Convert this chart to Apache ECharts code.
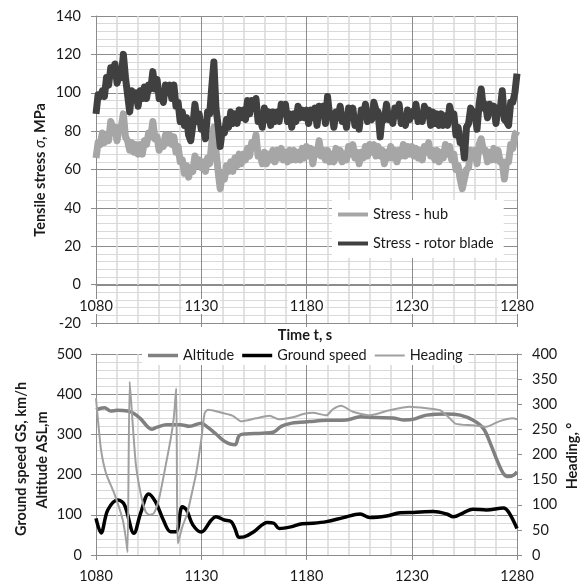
<!DOCTYPE html>
<html><head><meta charset="utf-8">
<script src="https://cdn.jsdelivr.net/npm/echarts@6/dist/echarts.min.js"></script>
<style>html,body{margin:0;padding:0;background:#fff}#c{width:587px;height:586px}</style>
</head><body><div id="c"></div>
<script>
// ---- data: top panel, 1 s samples from 1080 s ----
const stressStart = 1080;
const hubStress = [
66,74,73,79,74,78,75,85,82,82,
75,82,82,89,77,75,70,74,69,73,
68,73,68,75,73,79,77,85,76,77,
70,74,72,78,74,78,73,77,69,72,
64,65,58,62,56,61,59,67,62,65,
61,64,59,66,63,74,82,70,59,50,
58,55,62,59,64,59,66,62,68,63,
68,65,71,67,74,72,78,67,68,63,
69,63,68,65,70,64,70,66,71,65,
69,64,70,65,70,65,69,65,71,66,
72,67,71,63,70,68,75,67,70,65,
70,64,68,64,71,66,70,64,68,65,
72,68,73,66,69,63,69,66,72,67,
73,69,73,67,72,67,70,63,69,66,
72,66,70,64,70,67,73,67,72,68,
72,67,71,66,70,65,72,69,74,67,
70,65,70,64,69,66,73,68,72,65,
68,60,62,55,50,55,60,61,70,67,
70,63,73,76,70,70,64,69,65,71,
65,70,64,64,55,64,64,73,71,78,
80];
const bladeStress = [
89,99,98,101,98,108,104,113,111,115,
105,109,108,120,108,99,90,101,97,100,
93,101,97,103,97,104,102,111,102,107,
97,99,95,104,100,104,97,104,93,95,
85,90,83,87,78,75,83,94,85,89,
81,82,76,90,89,103,116,92,83,72,
81,79,86,82,90,84,89,84,91,87,
91,86,96,89,96,92,97,85,87,82,
92,86,90,83,90,85,90,85,94,89,
94,85,89,82,89,85,93,87,91,87,
91,84,91,87,92,83,93,91,93,84,
98,88,89,82,90,87,93,85,88,82,
92,87,92,83,86,81,91,88,94,85,
89,86,95,91,90,77,88,86,94,86,
89,84,92,88,94,84,87,83,91,86,
90,88,94,85,89,85,93,88,91,83,
90,84,89,83,89,83,88,83,93,88,
89,78,82,74,76,66,82,84,92,88,
90,81,94,102,92,94,87,94,90,93,
84,92,91,101,86,85,83,95,95,100,
110];

// ---- data: bottom panel ----
const altT = [1080,1084,1087,1090,1095,1098,1101,1106.5,1109,1113.5,1120,1124.5,1130,1133,1137,1141,1146,1148,1151,1159,1164.5,1168,1173,1177,1181.5,1189.5,1199,1205.5,1213,1221,1226,1231,1237,1246.5,1253,1259,1264,1268,1270.5,1273.5,1276,1278.5,1280];
const altV = [361,366,358,360,358,352,340,313,318,324,324,320,328,318,301,283,274,297,301,303,306,320,328,330,332,335,336,344,342,341,336,338,348,351,348,336,315,269,236,203,195,199,207];
const gsT = [1080,1082.4,1085.6,1090.4,1093.5,1098,1101.2,1105,1108.3,1112,1115.4,1118,1121,1123,1126,1130,1134.8,1137,1141,1144.2,1146,1148,1150.4,1155,1161.4,1164.5,1167,1172.5,1178,1183,1189.5,1197.5,1205.5,1210,1218,1224.5,1230.7,1240.3,1246.6,1249.8,1254.5,1259,1265.5,1273.6,1276,1280];
const gsV = [91,55,112,137,125,54,104,152,132,87,58,58,120,112,75,57,87,95,87,83,66,44,45,58,81,79,66,70,78,79,83,93,102,93,97,105,106,108,102,95,105,114,112,117,107,66];
const hdgT = [1080,1080.8,1082.4,1084.8,1088.7,1092.7,1094.3,1095,1096,1097.3,1098.9,1101.2,1103.6,1105.2,1107.5,1110,1113,1115.4,1117,1118.1,1118.9,1121,1123.3,1125.7,1127.6,1130,1131.6,1133.2,1137,1145,1149,1156,1162.5,1167,1173.5,1179,1183,1189.5,1192.5,1196.5,1202,1210,1219.5,1229,1237,1243.5,1248,1251,1259,1265.5,1271.5,1278,1280];
const hdgV = [312,275,209,162,122,70,30,6,345,269,182,123,86,80,83,113,176,229,275,332,23,56,82,126,163,229,282,289,286,277,266,272,277,270,274,281,283,278,290,297,285,278,288,295,292,288,272,261,258,255,266,272,270];

const stressTicks = {min:-20, max:140, step:20};
const timeTicks = {min:1080, max:1280, step:50};

// ---- chart ----
const FONT = 'Lato';
const major = '#8c8c8c', minor = '#d9d9d9', txt = '#1a1a1a';
const pairs = (ts, vs) => vs.map((v, i) => [ts[i], v]);
const stressTime = hubStress.map((_, i) => stressStart + i);
const plain = v => String(v);
const labelStyle = {fontFamily: FONT, fontSize: 14.5, color: txt, formatter: plain};

const timeRange = {type: 'value', min: timeTicks.min, max: timeTicks.max, interval: timeTicks.step};

const chart = echarts.init(document.getElementById('c'));
chart.setOption({
  animation: false,
  backgroundColor: '#fff',
  grid: [
    {left: 96, top: 16, width: 421, height: 307},
    {left: 96, top: 354, width: 421, height: 201},
    {left: 96, top: 16, width: 421, height: 269}   // overlay: time axis drawn on the 0-MPa line
  ],
  xAxis: [
    Object.assign({}, timeRange, {gridIndex: 0, position: 'bottom',
      axisLine: {show: false, onZero: false},
      axisTick: {show: true, length: 4, lineStyle: {color: major}},
      axisLabel: {show: false},
      splitLine: {show: true, lineStyle: {color: major}},
      minorTick: {show: false, splitNumber: 5},
      minorSplitLine: {show: true, lineStyle: {color: minor, width: 1.5}}}),
    Object.assign({}, timeRange, {gridIndex: 1, position: 'bottom',
      axisLine: {show: true, onZero: false, lineStyle: {color: major}},
      axisTick: {show: true, length: 5, lineStyle: {color: major}},
      axisLabel: Object.assign({margin: 14}, labelStyle),
      splitLine: {show: true, lineStyle: {color: major}},
      minorTick: {show: false, splitNumber: 5},
      minorSplitLine: {show: true, lineStyle: {color: minor, width: 1.5}}}),
    Object.assign({}, timeRange, {gridIndex: 2, position: 'bottom',
      axisLine: {show: true, onZero: false, lineStyle: {color: major}},
      axisTick: {show: true, length: 5, lineStyle: {color: major}},
      axisLabel: Object.assign({margin: 14, backgroundColor: '#fff', padding: [0, 2]}, labelStyle),
      splitLine: {show: false}})
  ],
  yAxis: [
    {type: 'value', gridIndex: 0, min: stressTicks.min, max: stressTicks.max, interval: stressTicks.step,
     axisLine: {show: true, lineStyle: {color: major}},
     axisTick: {show: true, length: 5, lineStyle: {color: major}},
     axisLabel: Object.assign({margin: 15}, labelStyle),
     splitLine: {show: true, lineStyle: {color: major}},
     minorTick: {show: false, splitNumber: 5},
     minorSplitLine: {show: true, lineStyle: {color: minor, width: 1}}},
    {type: 'value', gridIndex: 1, min: 0, max: 500, interval: 100,
     axisLine: {show: true, lineStyle: {color: major}},
     axisTick: {show: true, length: 5, lineStyle: {color: major}},
     axisLabel: Object.assign({margin: 14}, labelStyle),
     splitLine: {show: true, lineStyle: {color: major}},
     minorTick: {show: false, splitNumber: 5},
     minorSplitLine: {show: true, lineStyle: {color: minor, width: 1}}},
    {type: 'value', gridIndex: 1, position: 'right', min: 0, max: 400, interval: 50,
     axisLine: {show: true, lineStyle: {color: major}},
     axisTick: {show: true, length: 5, lineStyle: {color: major}},
     axisLabel: Object.assign({margin: 15}, labelStyle),
     splitLine: {show: false}},
    {type: 'value', gridIndex: 2, min: 0, max: 140, show: false}
  ],
  legend: [
    {orient: 'vertical', left: 332, top: 200, backgroundColor: '#fff', padding: [7, 10, 7, 6],
     itemWidth: 30, itemHeight: 14, itemGap: 14,
     textStyle: {fontFamily: FONT, fontSize: 14.5, color: txt},
     data: [{name: 'Stress - hub', icon: 'path://M0,0H30V4H0Z'},
            {name: 'Stress - rotor blade', icon: 'path://M0,0H30V4H0Z'}]},
    {orient: 'horizontal', left: 142, top: 346, backgroundColor: '#fff', padding: [2, 6, 2, 6],
     itemWidth: 30, itemHeight: 14, itemGap: 8,
     textStyle: {fontFamily: FONT, fontSize: 14.5, color: txt},
     data: [{name: 'Altitude', icon: 'path://M0,0H30V3.5H0Z'},
            {name: 'Ground speed', icon: 'path://M0,0H30V3.5H0Z'},
            {name: 'Heading', icon: 'path://M0,0H30V2H0Z'}]}
  ],
  graphic: [
    {type: 'text', x: 40, y: 170, rotation: Math.PI / 2,
     style: {text: '{b|Tensile stress }{i|σ}{b|, MPa}', align: 'center', verticalAlign: 'middle',
       rich: {b: {fontFamily: FONT, fontSize: 14.5, fontWeight: 'bold', fill: txt},
              i: {fontFamily: FONT, fontSize: 14.5, fontStyle: 'italic', fill: txt}}}},
    {type: 'text', x: 305, y: 335,
     style: {text: 'Time t, s', align: 'center', verticalAlign: 'middle', fontFamily: FONT, fontSize: 14.5, fontWeight: 'bold', fill: txt}},
    {type: 'text', x: 21, y: 459, rotation: Math.PI / 2,
     style: {text: 'Ground speed GS, km/h', align: 'center', verticalAlign: 'middle', fontFamily: FONT, fontSize: 14.5, fontWeight: 'bold', fill: txt}},
    {type: 'text', x: 42, y: 460, rotation: Math.PI / 2,
     style: {text: 'Altitude ASL,m', align: 'center', verticalAlign: 'middle', fontFamily: FONT, fontSize: 14.5, fontWeight: 'bold', fill: txt}},
    {type: 'text', x: 572, y: 456, rotation: Math.PI / 2,
     style: {text: 'Heading, °', align: 'center', verticalAlign: 'middle', fontFamily: FONT, fontSize: 14.5, fontWeight: 'bold', fill: txt}}
  ],
  series: [
    {name: 'Stress - hub', type: 'line', xAxisIndex: 0, yAxisIndex: 0, data: pairs(stressTime, hubStress),
     symbol: 'none', lineStyle: {color: '#a6a6a6', width: 7, join: 'round'}, itemStyle: {color: '#a6a6a6'}},
    {name: 'Stress - rotor blade', type: 'line', xAxisIndex: 0, yAxisIndex: 0, data: pairs(stressTime, bladeStress),
     symbol: 'none', lineStyle: {color: '#404040', width: 7, join: 'round'}, itemStyle: {color: '#404040'}},
    {name: 'Altitude', type: 'line', xAxisIndex: 1, yAxisIndex: 1, data: pairs(altT, altV), smooth: 0.35,
     symbol: 'none', lineStyle: {color: '#808080', width: 3.5}, itemStyle: {color: '#808080'}},
    {name: 'Ground speed', type: 'line', xAxisIndex: 1, yAxisIndex: 1, data: pairs(gsT, gsV), smooth: 0.35,
     symbol: 'none', lineStyle: {color: '#000', width: 3.5}, itemStyle: {color: '#000'}},
    {name: 'Heading', type: 'line', xAxisIndex: 1, yAxisIndex: 2, data: pairs(hdgT, hdgV), smooth: 0.2,
     symbol: 'none', lineStyle: {color: '#a0a0a0', width: 2}, itemStyle: {color: '#a0a0a0'}}
  ]
});
</script></body></html>
